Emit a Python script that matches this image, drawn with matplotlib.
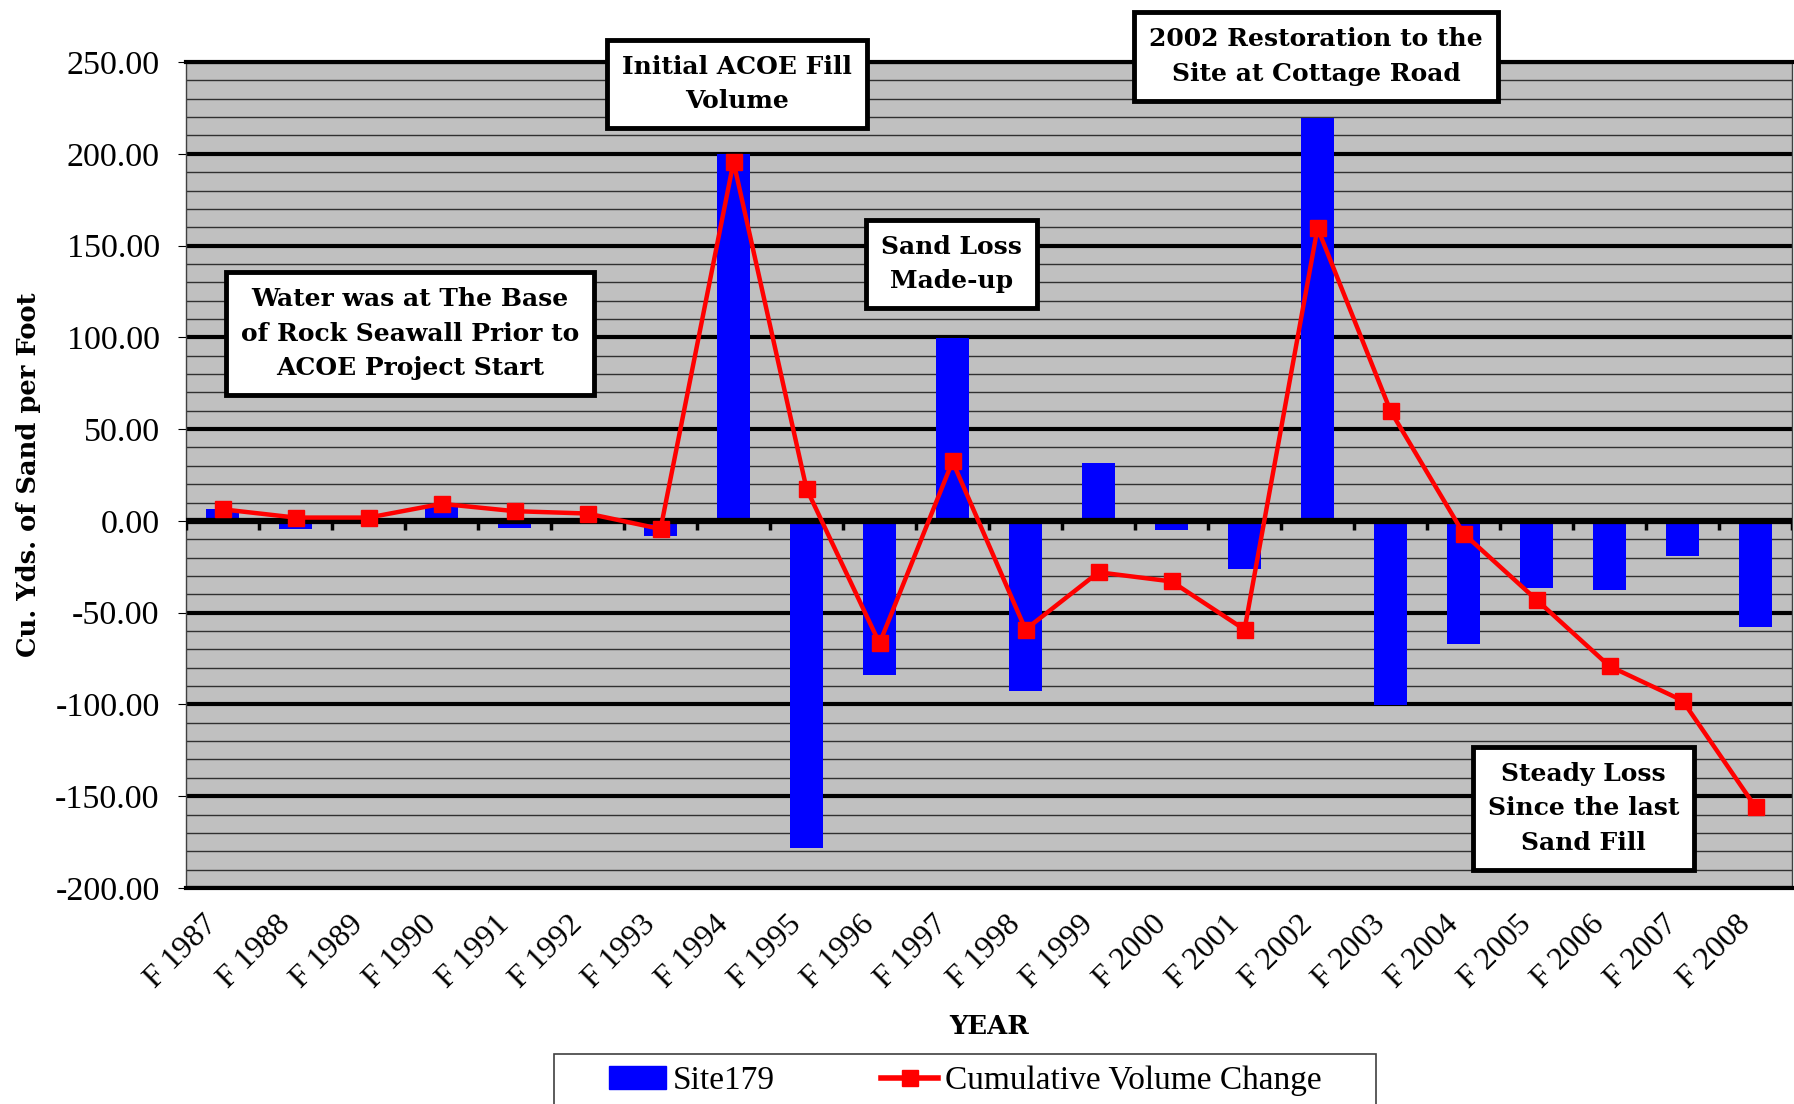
import numpy as np
import matplotlib.pyplot as plt
import matplotlib.transforms as mtransforms
from matplotlib.ticker import FormatStrFormatter
from matplotlib.patches import Patch, Rectangle
from matplotlib.lines import Line2D

years = ["F 1987", "F 1988", "F 1989", "F 1990", "F 1991", "F 1992", "F 1993",
         "F 1994", "F 1995", "F 1996", "F 1997", "F 1998", "F 1999", "F 2000",
         "F 2001", "F 2002", "F 2003", "F 2004", "F 2005", "F 2006", "F 2007",
         "F 2008"]

# yearly change at site 179
site179 = [6.3, -4.5, 0.0, 7.5, -4.0, -1.3, -8.4, 200.0, -178.2, -84.2, 99.8,
           -92.9, 31.8, -5.0, -26.2, 219.5, -100.4, -67.3, -36.8, -37.4, -19.3,
           -58.0]

# cumulative volume change
cumulative = [6.3, 1.8, 1.8, 9.3, 5.3, 4.0, -4.4, 195.6, 17.5, -66.7, 32.4,
              -59.2, -28.0, -33.0, -59.2, 159.6, 59.9, -6.9, -43.0, -79.2,
              -97.9, -155.9]

notes = ["Water was at The Base\nof Rock Seawall Prior to\nACOE Project Start",
         "Initial ACOE Fill\nVolume",
         "Sand Loss\nMade-up",
         "2002 Restoration to the\nSite at Cottage Road",
         "Steady Loss\nSince the last\nSand Fill"]

serif = "Liberation Serif"
slab = "DejaVu Serif"

fig = plt.figure(figsize=(17.94, 11.04), dpi=100)
ax = fig.add_axes([0.1037, 0.1957, 0.8952, 0.7481])

x = np.arange(len(years))
ax.set_facecolor("#C0C0C0")
ax.bar(x, site179, width=0.44, color="#0000FF", zorder=3)
ax.axhline(0, color="black", lw=4.5, zorder=3.5)
# category tick marks hanging from the zero line
ax.vlines(np.arange(len(years) + 1) - 0.5, 0, -5, colors="black", lw=2.5, zorder=3.5)
ax.plot(x, cumulative, color="#FF0000", lw=3.2, marker="s", ms=11.5, zorder=4)

ax.set_xlim(-0.5, len(years) - 0.5)
ax.set_ylim(-200, 250)
ax.set_yticks(np.arange(-200, 251, 50))
ax.set_yticks(np.arange(-200, 251, 10), minor=True)
ax.yaxis.set_major_formatter(FormatStrFormatter("%.2f"))
ax.grid(axis="y", which="major", color="black", lw=3, zorder=1)
ax.grid(axis="y", which="minor", color="#303030", lw=1, zorder=1)
ax.tick_params(axis="y", which="minor", length=0)
ax.tick_params(axis="y", which="major", length=6, pad=13, labelsize=24.5)
ax.tick_params(axis="x", length=0, pad=16)
for lab in ax.get_yticklabels():
    lab.set_fontfamily(serif)

ax.set_xticks(x)
ax.set_xticklabels(years, rotation=45, ha="right", va="top", rotation_mode="anchor",
                   fontsize=23, fontfamily=serif)
shift = mtransforms.ScaledTranslation(-0.2, 0, fig.dpi_scale_trans)
for lab in ax.get_xticklabels():
    lab.set_transform(lab.get_transform() + shift)

for side in ["left", "right"]:
    ax.spines[side].set_color("#404040")
    ax.spines[side].set_linewidth(1)
for side in ["top", "bottom"]:
    ax.spines[side].set_color("black")
    ax.spines[side].set_linewidth(3)

ax.set_ylabel("Cu. Yds. of Sand per Foot", fontsize=18.5, fontweight="bold",
              fontfamily=slab, labelpad=10)
ax.set_xlabel("YEAR", fontsize=18.5, fontweight="bold", fontfamily=slab, labelpad=14)

box = dict(boxstyle="square,pad=0.6", fc="white", ec="black", lw=3.5)
note_xy = [(2.57, 102), (7.05, 238), (9.99, 140), (14.98, 253), (18.64, -156.5)]
for txt, (nx, ny) in zip(notes, note_xy):
    ax.text(nx, ny, txt, ha="center", va="center", fontsize=18, fontweight="bold",
            fontfamily=slab, linespacing=1.55, bbox=box, zorder=6, clip_on=False)

handles = [Patch(color="#0000FF"),
           Line2D([], [], color="#FF0000", lw=4, marker="s", ms=11)]
leg = fig.legend(handles, ["Site179", "Cumulative Volume Change"], loc="center",
                 bbox_to_anchor=(0.538, 0.0208), ncol=2, frameon=False,
                 prop={"family": serif, "size": 24}, handlelength=1.7,
                 columnspacing=3.2, borderpad=0, borderaxespad=0, handletextpad=0.2)
fig.patches.append(Rectangle((554 / 1794, -0.02), 822 / 1794, 0.0653,
                             transform=fig.transFigure, fill=False,
                             ec="#404040", lw=1.2))

fig.savefig("out.png", dpi=100)
